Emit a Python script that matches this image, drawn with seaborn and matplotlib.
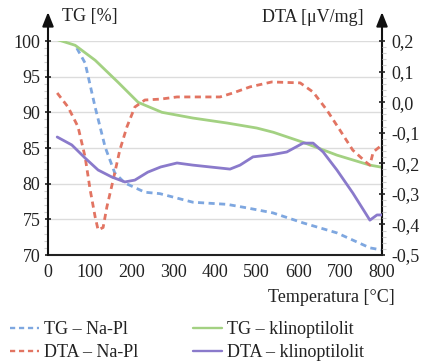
import numpy as np
import pandas as pd
import matplotlib
matplotlib.use("Agg")
import matplotlib.pyplot as plt
import seaborn as sns
from matplotlib.ticker import FixedLocator, FixedFormatter, MultipleLocator

# ---- data ----
temp_tg_napl = [69, 89, 113, 137, 160, 184, 232, 268, 347, 429, 477, 539, 611, 692, 771, 800]
tg_napl = [99.0, 96.9, 90.7, 85.1, 81.5, 80.1, 78.8, 78.6, 77.4, 77.1, 76.6, 75.9, 74.5, 73.1, 71.0, 70.7]

temp_dta_napl = [22, 48, 72, 89, 101, 113, 120, 132, 141, 156, 172, 189, 208, 232, 270, 309,
                 412, 443, 484, 536, 604, 635, 668, 699, 730, 764, 771, 779, 800]
dta_napl = [0.030, -0.016, -0.081, -0.18, -0.287, -0.376, -0.418, -0.41, -0.343, -0.255, -0.157,
            -0.081, -0.016, 0.007, 0.010, 0.017, 0.017, 0.03, 0.05, 0.066, 0.063, 0.033, -0.026,
            -0.091, -0.157, -0.199, -0.206, -0.163, -0.14]

temp_tg_klino = [22, 65, 113, 168, 216, 273, 347, 429, 500, 540, 611, 692, 771, 800]
tg_klino = [100.2, 99.4, 97.3, 94.2, 91.4, 90.0, 89.2, 88.5, 87.8, 87.2, 85.8, 84.0, 82.6, 82.3]

temp_dta_klino = [22, 57, 89, 120, 153, 184, 208, 239, 270, 309, 347, 388, 436, 460, 491, 536,
                  572, 611, 635, 659, 692, 730, 771, 788, 800]
dta_klino = [-0.114, -0.14, -0.183, -0.222, -0.245, -0.261, -0.255, -0.229, -0.212, -0.199,
             -0.206, -0.212, -0.219, -0.206, -0.179, -0.172, -0.163, -0.134, -0.134, -0.163,
             -0.222, -0.297, -0.386, -0.369, -0.369]

x_ticks = [0, 100, 200, 300, 400, 500, 600, 700, 800]
tg_ticks = [70, 75, 80, 85, 90, 95, 100]
dta_ticks = [-0.5, -0.4, -0.3, -0.2, -0.1, 0.0, 0.1, 0.2]
dta_tick_labels = ["-0,5", "-0,4", "-0,3", "-0,2", "-0,1", "0,0", "0,1", "0,2"]

labels = ["TG – Na-Pl", "DTA – Na-Pl", "TG – klinoptilolit", "DTA – klinoptilolit"]

# ---- style ----
sns.set_theme(style="white")
plt.rcParams["font.family"] = ["Liberation Serif", "DejaVu Serif"]
FS = 13

c_blue = "#7ea7e0"
c_red = "#e27462"
c_green = "#a3d182"
c_purple = "#8a7acb"
dash = (0, (2.2, 1.6))

W, H = 421, 361
fig = plt.figure(figsize=(W / 100, H / 100), dpi=100)
ax = fig.add_axes([48 / W, 1 - 255 / H, (382 - 48) / W, (255 - 41) / H])
ax2 = ax.twinx()

sns.lineplot(x=temp_tg_napl, y=tg_napl, ax=ax, color=c_blue, lw=2, linestyle=dash, label=labels[0])
sns.lineplot(x=temp_tg_klino, y=tg_klino, ax=ax, color=c_green, lw=2, label=labels[2])
sns.lineplot(x=temp_dta_napl, y=dta_napl, ax=ax2, color=c_red, lw=2, linestyle=dash, label=labels[1])
sns.lineplot(x=temp_dta_klino, y=dta_klino, ax=ax2, color=c_purple, lw=2, label=labels[3])

for a in (ax, ax2):
    if a.get_legend() is not None:
        a.get_legend().remove()

ax.set_xlim(0, 800)
ax.set_ylim(70, 100)
ax2.set_ylim(-0.5, 0.2)

ax.yaxis.set_major_locator(FixedLocator(tg_ticks))
ax.xaxis.set_major_locator(FixedLocator(x_ticks))
ax.xaxis.set_minor_locator(MultipleLocator(20))
ax.yaxis.set_minor_locator(MultipleLocator(1))
ax2.yaxis.set_major_locator(FixedLocator(dta_ticks))
ax2.yaxis.set_major_formatter(FixedFormatter(dta_tick_labels))
ax2.yaxis.set_minor_locator(MultipleLocator(0.02))

ax.grid(axis="y", color="#dcdcdc", lw=1)
ax.set_axisbelow(True)
ax.set_xlabel("")
ax.set_ylabel("")
ax2.set_ylabel("")

for a in (ax, ax2):
    for s in ("top", "left", "right"):
        a.spines[s].set_visible(False)
    a.spines["bottom"].set_visible(a is ax)
ax.spines["bottom"].set_color("#222222")
ax.spines["bottom"].set_linewidth(1.5)

ax.tick_params(axis="both", which="major", direction="inout", length=5, width=1.2,
               color="#222222", labelsize=FS, pad=3, labelcolor="#222222")
ax.tick_params(axis="both", which="minor", direction="out", length=3, width=0.8, color="#cfcfcf")
ax.tick_params(axis="x", pad=4)
ax2.tick_params(axis="y", which="major", direction="inout", length=5, width=1.2,
                color="#222222", labelsize=FS, pad=4, labelcolor="#222222")
ax2.tick_params(axis="y", which="minor", direction="out", length=3, width=0.8, color="#cfcfcf")

# axis arrows (vertical spines with arrowheads)
for xf in (0.0, 1.0):
    ax.annotate("", xy=(xf, 1.135), xytext=(xf, 0.0), xycoords="axes fraction",
                textcoords="axes fraction",
                arrowprops=dict(arrowstyle="-|>,head_length=0.7,head_width=0.28",
                                color="#111111", lw=1.5, shrinkA=0, shrinkB=0),
                annotation_clip=False)

fig.text(62 / W, 1 - 17 / H, "TG [%]", fontsize=FS, color="#222222", va="center", ha="left")
fig.text(364 / W, 1 - 17 / H, "DTA [μV/mg]", fontsize=FS, color="#222222", va="center", ha="right")
fig.text(395 / W, 1 - 298 / H, "Temperatura [°C]", fontsize=FS, color="#222222", va="center", ha="right")

h1, l1 = ax.get_legend_handles_labels()
h2, l2 = ax2.get_legend_handles_labels()
hmap = dict(zip(l1 + l2, h1 + h2))
handles = [hmap[l] for l in labels]
leg = fig.legend(handles, labels, loc="upper left", bbox_to_anchor=(10 / W, 1 - 321 / H),
                 ncol=2, frameon=False, fontsize=FS, handlelength=1.6, handletextpad=0.3,
                 columnspacing=3.0, labelspacing=0.35, borderpad=0, borderaxespad=0,
                 labelcolor="#222222")
for ln in leg.get_lines():
    ln.set_linewidth(1.7)

fig.savefig("out.png", dpi=100)
